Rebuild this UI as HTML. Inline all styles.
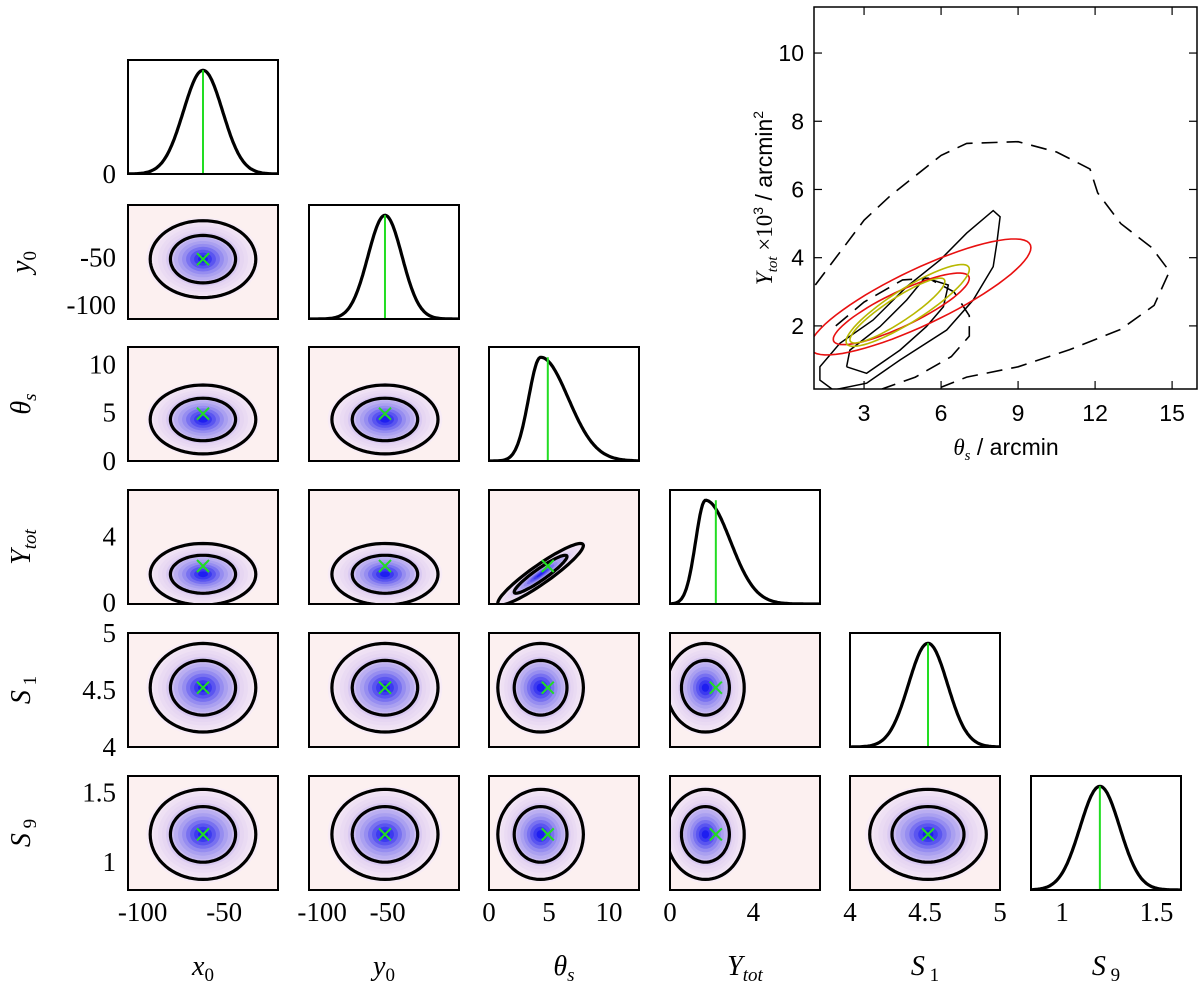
<!DOCTYPE html>
<html><head><meta charset="utf-8"><style>
body{margin:0;background:#fff}
svg{display:block}
text{font-family:"Liberation Serif",serif;fill:#000}
.sans{font-family:"Liberation Sans","DejaVu Sans",sans-serif}
</style></head><body>
<svg id="fig" width="1200" height="987" viewBox="0 0 1200 987"></svg>
<script>
// ---- corner data ----
const params = ["x0","y0","theta_s","Y_tot","S1","S9"];
const modes = [-63,-52,4.3,1.7,4.52,1.2];
const truths = [-63,-52,4.9,2.2,4.52,1.2];
const sdLeft = [12,13,1.0,0.47,0.13,0.105];
const sdRight = [12,13,2.3,1.2,0.13,0.105];
const contourSd = [20,25,2.2,1.15,0.24,0.2];
const colLo = [-109,-110,0,0,4,0.835];
const colHi = [-17,4.5,12.5,7.2,5,1.63];
const rowLo = [-109,-115,0,-0.1,4,0.8];
const rowHi = [-17,5,11.8,6.8,5,1.62];
const colTicks = [[-100,-50],[-100,-50],[0,5,10],[0,4],[4,4.5,5],[1,1.5]];
const colTickLabels = [["-100","-50"],["-100","-50"],["0","5","10"],["0","4"],["4","4.5","5"],["1","1.5"]];
const rowTicks = [[0],[-50,-100],[10,5,0],[4,0],[5,4.5,4],[1.5,1]];
const rowTickLabels = [["0"],["-50","-100"],["10","5","0"],["4","0"],["5","4.5","4"],["1.5","1"]];
// ---- inset data (theta_s, Y_tot) ----
const dashedOuterT = [1.1,2,3,4,5,6,7,9,10.5,11.8,12.1,13,14.2,14.9,14.3,13,11,9,7,6];
const dashedOuterY = [3.2,4.1,5.1,5.8,6.4,7.0,7.35,7.4,7.1,6.6,5.9,5.0,4.3,3.6,2.6,1.9,1.3,0.8,0.5,0.2];
const dashedInnerT = [1.9,3,4.5,5.5,6.5,7.1,7.1,6.4,5,3.7];
const dashedInnerY = [2.0,2.7,3.35,3.4,3.0,2.3,1.7,1.1,0.5,0.15];
const blackOuterT = [1.28,1.28,2.06,3.35,4.66,5.96,7.0,8.03,8.3,8.17,8.03,7.25,6.22,4.4,3.1,1.8];
const blackOuterY = [0.41,0.8,1.49,2.17,3.15,3.93,4.72,5.38,5.2,4.42,3.74,2.76,1.88,1.0,0.32,0.12];
const blackInnerT = [2.32,2.45,3.62,4.66,5.37,6.28,6.09,5.43,4.4,3.1,2.32];
const blackInnerY = [0.8,1.29,1.98,2.76,3.41,3.2,2.56,1.98,1.29,0.61,0.8];
const ellCenterT = [5.2,4.45,4.7,4.3];
const ellCenterY = [2.85,2.5,2.6,2.45];
const ellSdT = [4.3,2.65,2.4,1.85];
const ellSdY = [1.7,1.05,1.2,0.95];
const ellRho = [0.85,0.85,0.88,0.9];
const ellColor = ["#e81010","#e81010","#b8b800","#b8b800"];
const insetXTicks = [3,6,9,12,15];
const insetYTicks = [2,4,6,8,10];

const NS="http://www.w3.org/2000/svg";
const svg=document.getElementById('fig');
function mk(tag,attrs,parent){const e=document.createElementNS(NS,tag);for(const k in attrs)e.setAttribute(k,attrs[k]);(parent||svg).appendChild(e);return e;}

const colX=[128,309,489,670,850,1031], PW=150;
const rowY=[60,205,347,490,633,776], PH=114;
function sx(i,v){return colX[i]+(v-colLo[i])/(colHi[i]-colLo[i])*PW;}
function sy(j,v){return rowY[j]+PH-(v-rowLo[j])/(rowHi[j]-rowLo[j])*PH;}

const defs=mk('defs',{});
function lerp(a,b,t){return Math.round(a+(b-a)*t);}
function layerColor(t){
  const stops=[[248,236,246],[228,212,242],[160,150,240],[30,30,240]];
  const s=t*(stops.length-1), k=Math.min(Math.floor(s),stops.length-2), f=s-k;
  const a=stops[k],b=stops[k+1];
  return `rgb(${lerp(a[0],b[0],f)},${lerp(a[1],b[1],f)},${lerp(a[2],b[2],f)})`;
}
function ellPts(cx,cy,sxv,syv,rho,k,fx,fy){
  const p=[];for(let a=0;a<=72;a++){const t=a/72*2*Math.PI;
    const u=Math.cos(t), w=rho*Math.cos(t)+Math.sqrt(1-rho*rho)*Math.sin(t);
    p.push(fx(cx+k*sxv*u).toFixed(1)+','+fy(cy+k*syv*w).toFixed(1));}
  return p.join(' ');
}

for(let j=0;j<6;j++){
  for(let i=0;i<=j;i++){
    const g=mk('g',{});
    
    
    const cid='clip'+i+'_'+j;
    const cp=mk('clipPath',{id:cid},defs);mk('rect',{x:colX[i],y:rowY[j],width:PW,height:PH},cp);
    if(i===j){
      mk('rect',{x:colX[i],y:rowY[j],width:PW,height:PH,fill:'#fff'},g);
      const pts=[];
      for(let s=0;s<=120;s++){const v=colLo[i]+(colHi[i]-colLo[i])*s/120;
        const sd=v<modes[i]?sdLeft[i]:sdRight[i];const d=Math.exp(-0.5*Math.pow((v-modes[i])/sd,2));
        pts.push(sx(i,v).toFixed(1)+','+(rowY[j]+PH-d*0.91*PH).toFixed(1));}
      const c=mk('polyline',{points:pts.join(' '),fill:'none',stroke:'#000','stroke-width':3.2,'clip-path':'url(#'+cid+')'},g);
      
      
      const tl=mk('line',{x1:sx(i,truths[i]),x2:sx(i,truths[i]),y1:rowY[j]+PH,y2:rowY[j]+PH*0.09,stroke:'#22dd22','stroke-width':2},g);
      
      
    } else {
      mk('rect',{x:colX[i],y:rowY[j],width:PW,height:PH,fill:'#fcf0f0'},g);
      const rho=(i===2&&j===3)?0.93:0;
      const fx=v=>sx(i,v), fy=v=>sy(j,v);
      const gg=mk('g',{'clip-path':'url(#'+cid+')'},g);
      const N=14;
      for(let n=0;n<N;n++){const t=n/(N-1);const k=1.75*(1-t)+0.15*t;
        mk('polygon',{points:ellPts(modes[i],modes[j],contourSd[i],contourSd[j],rho,k,fx,fy),fill:layerColor(t),stroke:'none'},gg);}
      const o=mk('polygon',{points:ellPts(modes[i],modes[j],contourSd[i],contourSd[j],rho,1.62,fx,fy),fill:'none',stroke:'#000','stroke-width':3.2},gg);
      
      
      const inn=mk('polygon',{points:ellPts(modes[i],modes[j],contourSd[i],contourSd[j],rho,1.0,fx,fy),fill:'none',stroke:'#000','stroke-width':3.2},gg);
      
      
      const X=sx(i,truths[i]),Y=sy(j,truths[j]);
      const m=mk('path',{d:`M${X-6},${Y-6}L${X+6},${Y+6}M${X-6},${Y+6}L${X+6},${Y-6}`,stroke:'#22dd22','stroke-width':2},g);
      
      
    }
    mk('rect',{x:colX[i],y:rowY[j],width:PW,height:PH,fill:'none',stroke:'#000','stroke-width':2},g);
  }
}
// tick labels
for(let i=0;i<6;i++){colTicks[i].forEach((v,n)=>{const t=mk('text',{x:sx(i,v),y:921,'font-size':27,'text-anchor':'middle'});t.textContent=colTickLabels[i][n];
  });}
for(let j=0;j<6;j++){rowTicks[j].forEach((v,n)=>{const yy=j===0?rowY[0]+PH:sy(j,v);const t=mk('text',{x:116,y:yy+9,'font-size':27,'text-anchor':'end'});t.textContent=rowTickLabels[j][n];
  });}
// axis titles
const botLabels=[['x','0'],['y','0'],['θ','s'],['Y','tot'],['S',' 1'],['S',' 9']];
botLabels.forEach((l,i)=>{const t=mk('text',{x:colX[i]+PW/2,y:975,'font-size':28,'text-anchor':'middle','font-style':'italic'});
  t.innerHTML=l[0]+'<tspan font-size="19" dy="6" font-style="'+(i<2||i>3?'normal':'italic')+'">'+l[1]+'</tspan>';
  });
for(let j=1;j<6;j++){const l=botLabels[j];const cy=rowY[j]+PH/2;
  const t=mk('text',{x:0,y:0,'font-size':28,'text-anchor':'middle','font-style':'italic',transform:`translate(30,${cy}) rotate(-90)`});
  t.innerHTML=l[0]+'<tspan font-size="19" dy="6" font-style="'+(j<2||j>3?'normal':'italic')+'">'+l[1]+'</tspan>';
  }

// ---- inset ----
const IX0=814,IX1=1197,IY0=7,IY1=389, TLo=1.05,THi=15.97,YLo=0.15,YHi=11.35;
const ix=v=>IX0+(v-TLo)/(THi-TLo)*(IX1-IX0), iy=v=>IY1-(v-YLo)/(YHi-YLo)*(IY1-IY0);
const ig=mk('g',{});


const icp=mk('clipPath',{id:'iclip'},defs);mk('rect',{x:IX0,y:IY0,width:IX1-IX0,height:IY1-IY0},icp);
mk('rect',{x:IX0,y:IY0,width:IX1-IX0,height:IY1-IY0,fill:'#fff'},ig);
const ic=mk('g',{'clip-path':'url(#iclip)'},ig);
function line(T,Y,attrs,name,closed){const p=T.map((t,k)=>ix(t).toFixed(1)+','+iy(Y[k]).toFixed(1)).join(' ');
  const e=mk(closed?'polygon':'polyline',Object.assign({points:p,fill:'none'},attrs),ic);
  }
line(dashedOuterT,dashedOuterY,{stroke:'#000','stroke-width':1.6,'stroke-dasharray':'16,9'},'prior-contour-outer',false);
line(dashedInnerT,dashedInnerY,{stroke:'#000','stroke-width':1.6,'stroke-dasharray':'16,9'},'prior-contour-inner',false);
line(blackOuterT,blackOuterY,{stroke:'#000','stroke-width':1.5},'posterior-contour-outer',true);
line(blackInnerT,blackInnerY,{stroke:'#000','stroke-width':1.5},'posterior-contour-inner',false);
for(let e=0;e<ellCenterT.length;e++){
  const el=mk('polygon',{points:ellPts(ellCenterT[e],ellCenterY[e],ellSdT[e],ellSdY[e],ellRho[e],1,ix,iy),fill:'none',stroke:ellColor[e],'stroke-width':1.6},ic);
  
  
}
mk('rect',{x:IX0,y:IY0,width:IX1-IX0,height:IY1-IY0,fill:'none',stroke:'#000','stroke-width':1.5},ig);
insetXTicks.forEach(v=>{const X=ix(v);mk('line',{x1:X,x2:X,y1:IY1,y2:IY1-8,stroke:'#000','stroke-width':1.2},ig);mk('line',{x1:X,x2:X,y1:IY0,y2:IY0+8,stroke:'#000','stroke-width':1.2},ig);
  const t=mk('text',{x:X,y:421,'font-size':23,'text-anchor':'middle',class:'sans'},ig);t.textContent=v;
  });
insetYTicks.forEach(v=>{const Y=iy(v);mk('line',{x1:IX0,x2:IX0+8,y1:Y,y2:Y,stroke:'#000','stroke-width':1.2},ig);mk('line',{x1:IX1,x2:IX1-8,y1:Y,y2:Y,stroke:'#000','stroke-width':1.2},ig);
  const t=mk('text',{x:804,y:Y+8,'font-size':23,'text-anchor':'end',class:'sans'},ig);t.textContent=v;
  });
const ixt=mk('text',{x:1006,y:455,'font-size':23,'text-anchor':'middle',class:'sans'},ig);
ixt.innerHTML='<tspan font-family="Liberation Serif" font-style="italic">θ<tspan font-size="15" dy="5">s</tspan></tspan><tspan dy="-5"> / arcmin</tspan>';

const iyt=mk('text',{x:0,y:0,'font-size':23,'text-anchor':'middle',class:'sans',transform:'translate(772,198) rotate(-90)'},ig);
iyt.innerHTML='<tspan font-family="Liberation Serif" font-style="italic">Y<tspan font-size="15" dy="5">tot</tspan></tspan><tspan dy="-5" font-family="Liberation Serif"> ×10</tspan><tspan font-size="14" dy="-9">3</tspan><tspan dy="9">  / arcmin</tspan><tspan font-size="14" dy="-9">2</tspan>';

</script>
</body></html>
